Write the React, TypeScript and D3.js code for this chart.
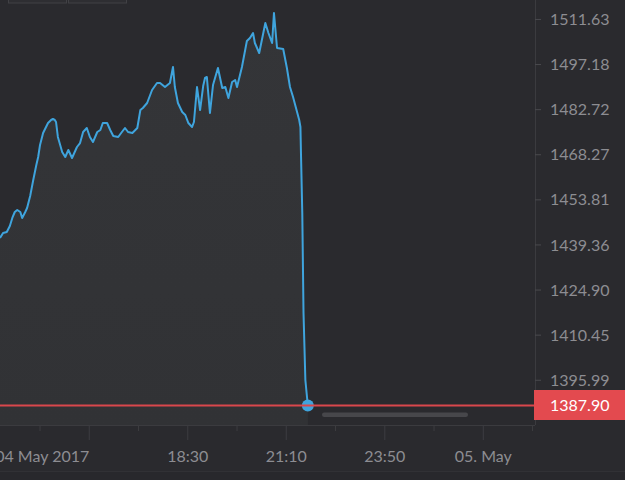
import React from "react";
import * as d3 from "d3";

// minutes after 04 May 2017 13:25
const minutes = [0, 5, 11, 16, 20, 24, 28, 33, 36, 41, 44, 49, 54, 59, 62, 65, 70, 78, 83, 86, 89, 91, 94, 101, 106, 111, 117, 125, 130, 135, 141, 146, 151, 158, 163, 167, 174, 179, 184, 192, 198, 203, 208, 215, 223, 228, 232, 239, 247, 255, 260, 268, 276, 281, 284, 289, 296, 301, 306, 312, 315, 320, 325, 330, 333, 336, 341, 346, 354, 361, 366, 371, 377, 382, 385, 393, 401, 406, 411, 414, 421, 431, 436, 442, 445, 450, 460, 466, 471, 476, 486, 488, 489, 491, 493, 496, 500];
const prices = [1441.59, 1443.19, 1443.51, 1445.43, 1448.0, 1449.92, 1450.56, 1449.92, 1448.0, 1449.92, 1451.2, 1455.05, 1460.18, 1464.98, 1467.55, 1471.39, 1475.24, 1478.44, 1479.41, 1479.73, 1479.41, 1478.77, 1473.96, 1469.15, 1467.55, 1469.79, 1467.23, 1470.75, 1472.03, 1475.56, 1476.84, 1473.96, 1472.36, 1475.56, 1476.2, 1478.44, 1478.44, 1476.2, 1474.28, 1473.96, 1475.56, 1476.84, 1475.56, 1475.24, 1476.84, 1482.61, 1483.25, 1484.86, 1489.02, 1491.27, 1491.27, 1489.98, 1491.27, 1496.39, 1489.98, 1484.86, 1481.97, 1481.01, 1478.44, 1477.16, 1478.77, 1489.98, 1482.61, 1490.3, 1492.87, 1493.19, 1481.65, 1490.62, 1496.07, 1489.66, 1489.98, 1486.46, 1491.59, 1492.23, 1489.98, 1496.39, 1504.73, 1505.69, 1507.29, 1504.09, 1500.88, 1510.5, 1507.29, 1504.09, 1513.7, 1502.48, 1502.16, 1496.07, 1489.98, 1486.78, 1479.41, 1477.16, 1467.55, 1449.6, 1417.55, 1396.07, 1387.9];

const yTicks = [1395.99, 1410.45, 1424.9, 1439.36, 1453.81, 1468.27, 1482.72, 1497.18, 1511.63];
const lastPrice = 1387.9;

// x-axis ticks every 80 min, minutes after 13:25
const minorTickMinutes = [65, 225, 385, 545, 705, 865];
const majorTickMinutes = [145, 305, 465, 625, 785];
const xLabels = ["04 May 2017", "18:30", "21:10", "23:50", "05. May"];

const W = 625;
const H = 480;
const plotLeft = 0;
const plotRight = 535;
const plotTop = 0;
const plotBottom = 425;

export default function App() {
  const x = d3.scaleLinear().domain([0, 869]).range([plotLeft, plotRight]);
  const y = d3.scaleLinear().domain([1381.65, 1517.87]).range([plotBottom, plotTop]);

  const data = minutes.map((m, i) => ({ m, v: prices[i] }));
  const line = d3
    .line<{ m: number; v: number }>()
    .x((d) => x(d.m))
    .y((d) => y(d.v));
  const area = d3
    .area<{ m: number; v: number }>()
    .x((d) => x(d.m))
    .y0(plotBottom)
    .y1((d) => y(d.v));

  const last = data[data.length - 1];
  const font = "Lato, 'Open Sans', sans-serif";
  const textColor = "#8d8d92";

  return (
    <svg
      width={W}
      height={H}
      style={{ position: "absolute", left: 0, top: 0, display: "block", background: "#2a2a2e" }}
    >
      <defs>
        <clipPath id="plotClip">
          <rect x={plotLeft} y={plotTop} width={plotRight - plotLeft} height={plotBottom - plotTop} />
        </clipPath>
        <linearGradient id="areaGrad" x1="0" y1="0" x2="0" y2="1">
          <stop offset="0%" stopColor="#343538" />
          <stop offset="100%" stopColor="#313235" />
        </linearGradient>
      </defs>
      <rect x={0} y={0} width={W} height={H} fill="#2a2a2e" />
      <rect x={0} y={471} width={W} height={9} fill="#28282c" />
      <line x1={0} x2={W} y1={471.5} y2={471.5} stroke="#313135" strokeWidth={1} />

      {/* range selector boxes (cut off) */}
      <rect x={8.5} y={-10} width={58} height={13} fill="#2e2e32" stroke="#414145" />
      <rect x={68.5} y={-10} width={58} height={13} fill="#2e2e32" stroke="#414145" />

      <g clipPath="url(#plotClip)">
        <path d={area(data) || ""} fill="url(#areaGrad)" />
        <path d={line(data) || ""} fill="none" stroke="#3fa4dd" strokeWidth={2} strokeLinejoin="round" />
      </g>

      {/* scrollbar */}
      <rect x={322} y={412.5} width={146} height={4.5} rx={2.2} fill="#47474b" />

      {/* plot borders */}
      <line x1={plotLeft} x2={plotRight} y1={plotBottom + 0.5} y2={plotBottom + 0.5} stroke="#3b3b3f" strokeWidth={1} />
      <line x1={plotRight + 0.5} x2={plotRight + 0.5} y1={0} y2={plotBottom} stroke="#3b3b3f" strokeWidth={1} />

      {/* last point marker */}
      <circle cx={x(last.m)} cy={y(last.v)} r={6} fill="#3fa4dd" />

      {/* current price line */}
      <line x1={0} x2={W} y1={y(lastPrice)} y2={y(lastPrice)} stroke="#d9474c" strokeWidth={2} />

      {/* y axis */}
      {yTicks.map((t) => (
        <g key={t}>
          <line x1={plotRight} x2={plotRight + 6} y1={y(t)} y2={y(t)} stroke="#4a4a4e" strokeWidth={1} />
          <text
            x={550}
            y={y(t)}
            dy="0.35em"
            fill={textColor}
            fontFamily={font}
            fontSize={16}
          >
            {t.toFixed(2)}
          </text>
        </g>
      ))}

      {/* price tag */}
      <rect x={534} y={y(lastPrice) - 15.5} width={W - 534} height={30} fill="#e34a4f" />
      <text
        x={550}
        y={y(lastPrice)}
        dy="0.35em"
        fill="#ffffff"
        fontFamily={font}
        fontSize={16}
      >
        {lastPrice.toFixed(2)}
      </text>

      {/* x axis */}
      {minorTickMinutes.map((m) => (
        <line key={"mi" + m} x1={x(m)} x2={x(m)} y1={plotBottom + 1} y2={plotBottom + 6} stroke="#3d3d41" strokeWidth={1} />
      ))}
      {majorTickMinutes.map((m, i) => (
        <g key={"ma" + m}>
          <line x1={x(m)} x2={x(m)} y1={plotBottom + 1} y2={plotBottom + 15} stroke="#3d3d41" strokeWidth={1} />
          <text
            x={x(m)}
            y={462}
            textAnchor={i === 0 ? "end" : "middle"}
            fill={textColor}
            fontFamily={font}
            fontSize={16}
          >
            {xLabels[i]}
          </text>
        </g>
      ))}
    </svg>
  );
}
